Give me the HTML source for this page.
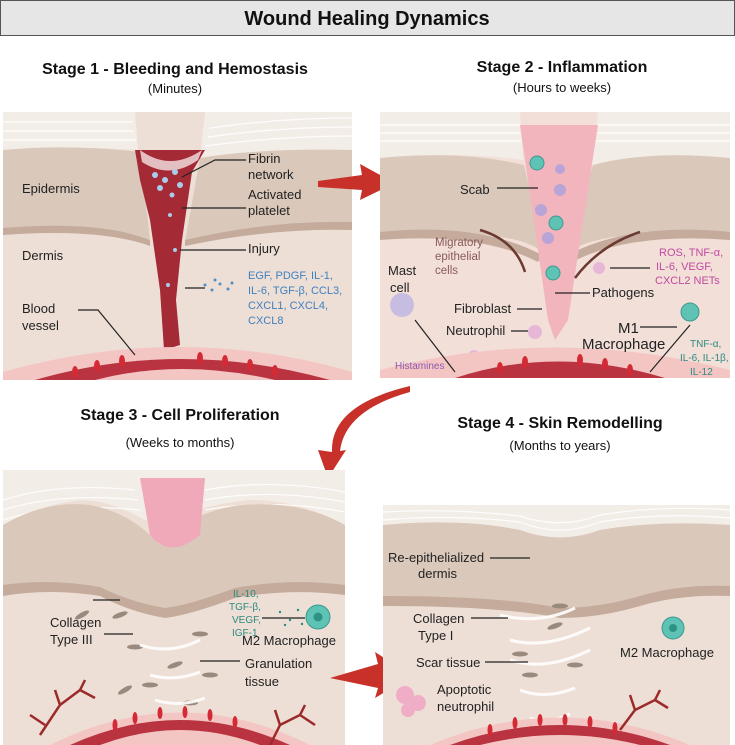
<!DOCTYPE html>
<html><head><meta charset="utf-8"><style>
html,body{margin:0;padding:0;background:#fff;width:735px;height:745px;overflow:hidden}
svg{display:block;font-family:"Liberation Sans",sans-serif}
</style></head><body>
<svg width="735" height="745" viewBox="0 0 735 745" xmlns="http://www.w3.org/2000/svg">
<rect x="0.5" y="0.5" width="734" height="35" fill="#e6e6e6" stroke="#555"/>
<text x="367" y="25" font-size="20" font-weight="bold" text-anchor="middle" fill="#111">Wound Healing Dynamics</text>

<g font-weight="bold" font-size="16" text-anchor="middle" fill="#111">
<text x="175" y="74">Stage 1 - Bleeding and Hemostasis</text>
<text x="562" y="72">Stage 2 - Inflammation</text>
<text x="180" y="420">Stage 3 - Cell Proliferation</text>
<text x="560" y="428">Stage 4 - Skin Remodelling</text>
</g>
<g font-size="13" text-anchor="middle" fill="#111">
<text x="175" y="93">(Minutes)</text>
<text x="562" y="92">(Hours to weeks)</text>
<text x="180" y="447">(Weeks to months)</text>
<text x="560" y="450">(Months to years)</text>
</g>

<!-- PANEL 1 -->
<rect x="3" y="112" width="349" height="268" fill="#eedfd6"/>
<path d="M3 112 H135 L138 150 Q70 145 3 152Z" fill="#f3ede8"/>
<path d="M205 112 H352 V150 Q260 148 200 160Z" fill="#f3ede8"/>
<g stroke="#fff" stroke-width="1.2" fill="none" opacity=".9"><path d="M3 122 H133"/><path d="M3 131 H134"/><path d="M3 140 H136"/><path d="M210 128 Q280 118 352 118"/><path d="M208 137 Q280 127 352 127"/><path d="M205 146 Q280 136 352 136"/></g>
<path d="M3 150 Q70 144 140 152 L150 240 Q110 222 3 230Z" fill="#dac8ba"/>
<path d="M200 158 Q260 148 352 150 V225 Q270 222 185 242Z" fill="#dac8ba"/>
<path d="M3 228 Q100 220 150 240 L150 246 Q100 228 3 235Z M352 222 Q270 220 185 240 L185 246 Q270 228 352 230Z" fill="#c4ab9b"/>
<path d="M135 150 L205 150 L192 172 L182 240 L176 300 L180 345 L164 350 L160 290 L150 220 L140 180Z" fill="#a42a35"/>
<path d="M140 150 Q170 172 202 150 L198 160 Q170 180 142 162Z" fill="#fff" opacity=".7"/>
<g fill="#a8cdec"><circle cx="155" cy="175" r="3"/><circle cx="165" cy="180" r="3"/><circle cx="175" cy="172" r="3"/><circle cx="160" cy="188" r="3"/><circle cx="172" cy="195" r="2.5"/><circle cx="180" cy="185" r="3"/><circle cx="170" cy="215" r="2"/><circle cx="175" cy="250" r="2"/><circle cx="168" cy="285" r="2"/></g>
<path d="M3 372 Q180 322 352 372 V380 H3Z" fill="#f3c6c4"/>
<path d="M35 380 Q180 338 330 380Z" fill="#b93440"/>
<path d="M95 380 Q180 358 275 380Z" fill="#f3c6c4"/>
<g fill="#d42a35"><ellipse cx="75" cy="372" rx="3" ry="6"/><ellipse cx="97" cy="366" rx="3" ry="6"/><ellipse cx="122" cy="361" rx="3" ry="6"/><ellipse cx="200" cy="358" rx="3" ry="6"/><ellipse cx="225" cy="361" rx="3" ry="6"/><ellipse cx="250" cy="365" rx="3" ry="6"/><ellipse cx="275" cy="371" rx="3" ry="6"/></g>
<g font-size="13" fill="#222">
<text x="22" y="193">Epidermis</text><text x="22" y="260">Dermis</text>
<text x="22" y="313">Blood</text><text x="22" y="330">vessel</text>
<text x="248" y="163">Fibrin</text><text x="248" y="179">network</text>
<text x="248" y="199">Activated</text><text x="248" y="215">platelet</text>
<text x="248" y="253">Injury</text>
</g>
<g font-size="11" fill="#3f7fbf"><text x="248" y="279">EGF, PDGF, IL-1,</text><text x="248" y="294">IL-6, TGF-β, CCL3,</text><text x="248" y="309">CXCL1, CXCL4,</text><text x="248" y="324">CXCL8</text></g>
<g stroke="#222" stroke-width="1.2" fill="none"><path d="M182 177 L215 160 H246"/><path d="M182 208 H246"/><path d="M180 250 H246"/><path d="M185 288 H205"/><path d="M78 310 H98 L135 355"/></g>
<g fill="#4d8fc8"><circle cx="205" cy="285" r="1.5"/><circle cx="212" cy="290" r="1.5"/><circle cx="220" cy="284" r="1.5"/><circle cx="228" cy="289" r="1.5"/><circle cx="232" cy="283" r="1.5"/><circle cx="215" cy="280" r="1.5"/></g>

<!-- arrow 1->2 -->
<path d="M318 181 L362 175 L360 164 L395 183 L360 200 L362 190 L318 187Z" fill="#c8302a"/>

<!-- PANEL 2 -->
<rect x="380" y="112" width="350" height="266" fill="#f2dfd8"/>
<path d="M380 112 H520 L523 160 Q450 150 380 160Z M598 112 H730 V160 Q650 150 592 165Z" fill="#f3ede8"/>
<g stroke="#fff" stroke-width="1.2" fill="none" opacity=".9"><path d="M380 125 H520"/><path d="M380 133 H520"/><path d="M380 141 H521"/><path d="M598 125 H730"/><path d="M597 133 H730"/><path d="M596 141 H730"/></g>
<path d="M380 158 Q460 150 524 165 L545 255 Q520 225 380 238Z" fill="#dac8ba"/>
<path d="M730 158 Q650 150 593 165 L565 255 Q600 225 730 238Z" fill="#dac8ba"/>
<path d="M380 232 Q480 222 542 255 L538 262 Q480 232 380 240Z M730 232 Q630 222 568 255 L572 262 Q630 232 730 240Z" fill="#c4ab9b"/>
<path d="M520 125 H598 L568 320 L555 340 L548 320Z" fill="#f3b5bd"/>
<g fill="#5ec2b4" stroke="#3a9a8e"><circle cx="537" cy="163" r="7"/><circle cx="556" cy="223" r="7"/><circle cx="553" cy="273" r="7"/><circle cx="690" cy="312" r="9"/></g>
<g fill="#b9a4d8"><circle cx="560" cy="169" r="5"/><circle cx="560" cy="190" r="6"/><circle cx="541" cy="210" r="6"/><circle cx="548" cy="238" r="6"/></g>
<g fill="#e6b7d6"><circle cx="599" cy="268" r="6"/><circle cx="535" cy="332" r="7"/><circle cx="474" cy="356" r="6"/></g>
<circle cx="402" cy="305" r="12" fill="#c7bde0"/>
<path d="M380 370 Q555 325 730 370 V378 H380Z" fill="#f3c6c4"/>
<path d="M455 378 Q555 345 665 378Z" fill="#b93440"/>
<g fill="#d42a35"><ellipse cx="500" cy="368" rx="3" ry="6"/><ellipse cx="525" cy="362" rx="3" ry="6"/><ellipse cx="580" cy="360" rx="3" ry="6"/><ellipse cx="605" cy="364" rx="3" ry="6"/><ellipse cx="630" cy="370" rx="3" ry="6"/></g>
<g stroke="#6b3a32" stroke-width="2.5" fill="none"><path d="M480 230 Q515 240 525 272"/><path d="M640 232 Q600 245 575 278"/></g>
<g font-size="13" fill="#222">
<text x="460" y="194">Scab</text>
<text x="388" y="275">Mast</text><text x="390" y="292">cell</text>
<text x="454" y="313">Fibroblast</text><text x="446" y="335">Neutrophil</text>
<text x="592" y="297">Pathogens</text>
<text x="618" y="333" font-size="15">M1</text><text x="582" y="349" font-size="15">Macrophage</text>
</g>
<g font-size="11.5" fill="#8a5a5a"><text x="435" y="246">Migratory</text><text x="435" y="260">epithelial</text><text x="435" y="274">cells</text></g>
<g font-size="11" fill="#c14aa0"><text x="659" y="256">ROS, TNF-α,</text><text x="656" y="270">IL-6, VEGF,</text><text x="655" y="284">CXCL2 NETs</text></g>
<g font-size="10" fill="#2b8a80"><text x="690" y="347">TNF-α,</text><text x="680" y="361">IL-6, IL-1β,</text><text x="690" y="375">IL-12</text></g>
<text x="395" y="369" font-size="10" fill="#8e5ab0">Histamines</text>
<g stroke="#222" stroke-width="1.2" fill="none"><path d="M497 188 H538"/><path d="M555 293 H590"/><path d="M517 309 H542"/><path d="M511 331 H528"/><path d="M640 327 H677"/><path d="M610 268 H650"/><path d="M690 325 L650 372"/><path d="M415 320 L455 372"/></g>

<!-- curved arrow 2->3 -->
<path d="M410 386 Q330 405 332 452 L318 450 L328 478 L346 450 L340 451 Q345 410 410 392Z" fill="#c8302a"/>

<!-- PANEL 3 -->
<rect x="3" y="470" width="342" height="275" fill="#eedfd6"/>
<path d="M3 470 H345 V525 Q300 500 250 500 Q200 505 175 520 L145 520 Q110 500 80 500 Q40 505 3 525Z" fill="#f3ede8"/>
<g stroke="#fff" stroke-width="1.2" fill="none" opacity=".9"><path d="M3 500 Q60 482 135 490"/><path d="M3 510 Q60 492 138 500"/><path d="M3 520 Q60 502 140 510"/><path d="M205 490 Q270 478 345 492"/><path d="M205 500 Q270 488 345 502"/><path d="M205 510 Q270 498 345 512"/></g>
<path d="M3 525 Q45 500 90 505 Q130 512 160 545 Q190 512 240 505 Q300 500 345 525 V590 Q290 582 235 592 Q190 608 165 612 Q130 605 100 590 Q50 582 3 590Z" fill="#dac8ba"/>
<path d="M3 585 Q50 578 100 587 Q130 602 165 608 Q190 605 235 588 Q290 578 345 585 V595 Q290 588 235 598 Q190 615 165 618 Q130 612 100 596 Q50 588 3 596Z" fill="#c4ab9b"/>
<path d="M140 478 H205 L200 535 Q170 560 150 535Z" fill="#f0a9b8"/>
<g fill="#9a8a7e"><ellipse cx="120" cy="615" rx="8" ry="2.5" transform="rotate(-20 120 615)"/><ellipse cx="135" cy="647" rx="8" ry="2.5"/><ellipse cx="200" cy="634" rx="8" ry="2.5"/><ellipse cx="175" cy="665" rx="8" ry="2.5" transform="rotate(-20 175 665)"/><ellipse cx="210" cy="675" rx="8" ry="2.5"/><ellipse cx="150" cy="685" rx="8" ry="2.5"/><ellipse cx="125" cy="690" rx="8" ry="2.5" transform="rotate(-30 125 690)"/><ellipse cx="190" cy="703" rx="8" ry="2.5"/><ellipse cx="82" cy="615" rx="8" ry="2.5" transform="rotate(-30 82 615)"/></g>
<g stroke="#fff" stroke-width="3" fill="none" opacity=".9"><path d="M140 645 Q170 655 200 640"/><path d="M150 675 Q175 682 200 672"/><path d="M155 700 Q180 708 205 698"/></g>
<path d="M50 745 Q180 680 310 745Z" fill="#f3c6c4"/>
<path d="M70 745 Q180 695 290 745Z" fill="#b93440"/>
<path d="M100 745 Q180 715 260 745Z" fill="#f3c6c4"/>
<g fill="#d42a35"><ellipse cx="115" cy="725" rx="2.5" ry="6"/><ellipse cx="135" cy="718" rx="2.5" ry="6"/><ellipse cx="160" cy="713" rx="2.5" ry="6"/><ellipse cx="185" cy="712" rx="2.5" ry="6"/><ellipse cx="210" cy="715" rx="2.5" ry="6"/><ellipse cx="235" cy="722" rx="2.5" ry="6"/></g>
<g stroke="#9b2a2a" stroke-width="2.5" fill="none"><path d="M40 735 L60 705 L55 690 M60 705 L80 690 L85 680 M80 690 L95 698 M45 725 L30 715"/><path d="M270 745 L280 725 L275 710 M280 725 L300 715 L305 705 M300 715 L315 725"/></g>
<circle cx="318" cy="617" r="12" fill="#5ec2b4" stroke="#3a9a8e"/><circle cx="318" cy="617" r="4.5" fill="#2e9285"/>
<g fill="#2b8a80"><circle cx="280" cy="612" r="1.2"/><circle cx="290" cy="620" r="1.2"/><circle cx="298" cy="610" r="1.2"/><circle cx="285" cy="625" r="1.2"/><circle cx="302" cy="624" r="1.2"/></g>
<g font-size="13" fill="#222">
<text x="50" y="627">Collagen</text><text x="50" y="644">Type III</text>
<text x="242" y="645">M2 Macrophage</text>
<text x="245" y="668">Granulation</text><text x="245" y="686">tissue</text>
</g>
<g font-size="10" fill="#2b8a80"><text x="233" y="597">IL-10,</text><text x="229" y="610">TGF-β,</text><text x="232" y="623">VEGF,</text><text x="232" y="636">IGF-1</text></g>
<g stroke="#222" stroke-width="1.2" fill="none"><path d="M93 600 H120"/><path d="M104 634 H133"/><path d="M200 661 H240"/><path d="M262 618 H305"/></g>

<!-- arrow 3->4 -->
<path d="M330 678 L378 664 L375 652 L412 676 L375 698 L378 688Z" fill="#c8302a"/>

<!-- PANEL 4 -->
<rect x="383" y="505" width="347" height="240" fill="#eedfd6"/>
<path d="M383 505 H730 V525 Q660 520 600 530 Q560 545 520 530 Q460 518 383 525Z" fill="#f3ede8"/>
<g stroke="#fff" stroke-width="1.2" fill="none" opacity=".9"><path d="M383 512 Q450 508 520 516 Q560 530 600 515 Q660 505 730 510"/><path d="M383 520 Q450 514 520 522 Q560 538 600 522 Q660 512 730 518"/></g>
<path d="M383 525 Q460 518 520 530 Q560 545 600 530 Q660 520 730 525 V590 Q680 588 640 600 Q600 612 560 612 Q500 600 383 600Z" fill="#dac8ba"/>
<path d="M383 596 Q500 596 560 608 Q600 608 640 596 Q680 584 730 586 V596 Q680 594 640 606 Q600 618 560 618 Q500 606 383 606Z" fill="#c4ab9b"/>
<g fill="#9a8a7e"><ellipse cx="560" cy="606" rx="8" ry="2.5"/><ellipse cx="555" cy="626" rx="8" ry="2.5" transform="rotate(-20 555 626)"/><ellipse cx="520" cy="654" rx="8" ry="2.5"/><ellipse cx="575" cy="665" rx="8" ry="2.5"/><ellipse cx="530" cy="675" rx="8" ry="2.5"/></g>
<g stroke="#fff" stroke-width="3" fill="none" opacity=".9"><path d="M500 615 Q540 625 575 608"/><path d="M510 640 Q545 650 590 628"/><path d="M510 660 Q545 672 590 650"/><path d="M520 690 Q545 700 575 688"/><path d="M530 718 Q550 724 570 714"/></g>
<path d="M430 745 Q560 690 690 745Z" fill="#f3c6c4"/>
<path d="M450 745 Q560 705 670 745Z" fill="#b93440"/>
<path d="M480 745 Q560 725 640 745Z" fill="#f3c6c4"/>
<g fill="#d42a35"><ellipse cx="490" cy="730" rx="2.5" ry="6"/><ellipse cx="515" cy="723" rx="2.5" ry="6"/><ellipse cx="540" cy="720" rx="2.5" ry="6"/><ellipse cx="565" cy="720" rx="2.5" ry="6"/><ellipse cx="590" cy="722" rx="2.5" ry="6"/><ellipse cx="615" cy="728" rx="2.5" ry="6"/></g>
<g stroke="#9b2a2a" stroke-width="2.5" fill="none"><path d="M620 730 L635 710 L630 695 M635 710 L655 700 L660 690 M655 700 L668 708"/></g>
<g fill="#f0a9c4" opacity=".9"><circle cx="405" cy="695" r="9"/><circle cx="418" cy="703" r="8"/><circle cx="408" cy="710" r="7"/></g>
<circle cx="673" cy="628" r="11" fill="#5ec2b4" stroke="#3a9a8e"/><circle cx="673" cy="628" r="4" fill="#2e9285"/>
<g font-size="13" fill="#222">
<text x="388" y="562">Re-epithelialized</text><text x="418" y="578">dermis</text>
<text x="413" y="623">Collagen</text><text x="418" y="640">Type I</text>
<text x="416" y="667">Scar tissue</text>
<text x="437" y="694">Apoptotic</text><text x="437" y="711">neutrophil</text>
<text x="620" y="657">M2 Macrophage</text>
</g>
<g stroke="#222" stroke-width="1.2" fill="none"><path d="M490 558 H530"/><path d="M471 618 H508"/><path d="M485 662 H528"/></g>
</svg>
</body></html>
